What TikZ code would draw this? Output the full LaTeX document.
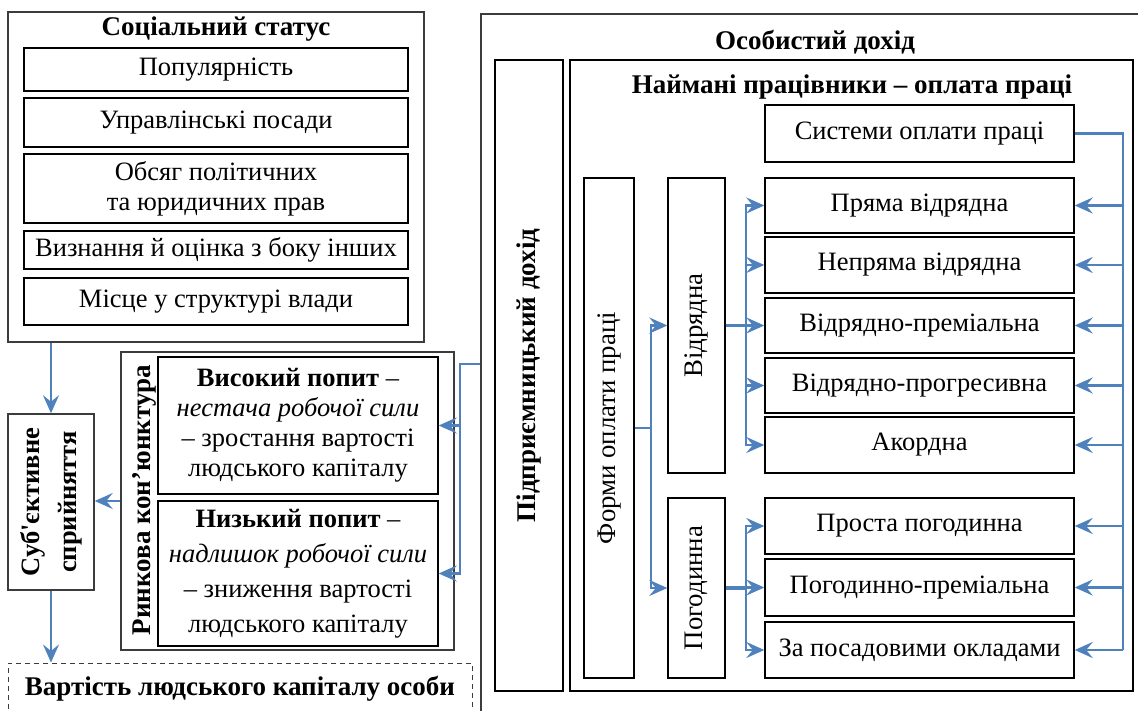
\documentclass[tikz,border=0pt]{standalone}
\usepackage{fontspec}
\setmainfont{Liberation Serif}
\newfontfamily\rawserif[Ligatures=TeXOff]{Liberation Serif}
\usetikzlibrary{arrows.meta,calc}

\definecolor{linkblue}{HTML}{4F81BD}
\definecolor{framegray}{HTML}{3C3C3C}

% box by corners: name, x1, y1, x2, y2, style, text
\newcommand\cornerbox[7]{%
  \node[#6, minimum width={#4-#2}, minimum height={#5-#3}]
    (#1) at ({(#2+#4)/2},{(#3+#5)/2}) {#7};}
% straight apostrophe
\newcommand\sapos{{\rawserif\bfseries '}}

\begin{document}
\begin{tikzpicture}[x=1pt, y=-1pt,
  inbox/.style={draw=black, line width=1.4pt, inner sep=0pt, align=center,
    font=\fontsize{26.5}{30}\selectfont},
  rbox/.style={inbox},
  frame/.style={draw=framegray, line width=1.5pt, inner sep=0pt},
  dashframe/.style={draw=framegray, line width=1pt, dash pattern=on 5pt off 4pt, inner sep=0pt},
  ttl/.style={font=\fontsize{27}{30}\selectfont\bfseries, inner sep=0pt},
  vlab/.style={rotate=90, inner sep=0pt, align=center},
  vtxt/.style={vlab, font=\fontsize{26.8}{30}\selectfont},
  vbold/.style={vlab, font=\fontsize{27}{30}\selectfont\bfseries},
  conn/.style={draw=linkblue, line width=2.3pt},
  arr/.style={conn, -{Stealth[length=18pt, width=16pt, inset=6.5pt]}},
]
\useasboundingbox (0,0) rectangle (1138,711);
\clip (0,0) rectangle (1138,711);

% ---------- social status ----------
\cornerbox{soc}{8}{12}{424}{342}{frame}{}
\node[ttl] (soctitle) at (216,29) {Соціальний статус};
\cornerbox{pop}{24}{48}{408}{91}{inbox}{Популярність}
\cornerbox{upr}{24}{98}{408}{147}{inbox}{Управлінські посади}
\cornerbox{obs}{24}{154}{408}{223}{inbox}{Обсяг політичних\\та юридичних прав}
\cornerbox{vyz}{24}{231}{408}{269}{inbox}{Визнання й оцінка з боку інших}
\cornerbox{mis}{24}{278}{408}{325}{inbox}{Місце у структурі влади}

% ---------- subjective perception ----------
\cornerbox{subj}{8}{414}{94}{590}{frame}{}
\node[vbold, font=\fontsize{26.5}{37}\selectfont\bfseries] (subjlab) at (subj.center) {Суб\sapos єктивне\\сприйняття};

% ---------- market conditions ----------
\cornerbox{rynk}{121}{352}{454}{650}{frame}{}
\node[vbold] (rynklab) at (144,500) {Ринкова кон’юнктура};
\cornerbox{high}{158}{357}{438}{494}{inbox}{\textbf{Високий попит} –\\\textit{нестача робочої сили}\\– зростання вартості\\людського капіталу}
\cornerbox{low}{158}{501}{438}{646}{inbox, font=\fontsize{26.5}{35}\selectfont}{\textbf{Низький попит} –\\\textit{надлишок робочої сили}\\– зниження вартості\\людського капіталу}

% ---------- human capital value ----------
\cornerbox{val}{8}{663}{472}{720}{dashframe}{}
\node[ttl] (vallab) at (240,689) {Вартість людського капіталу особи};

% ---------- personal income ----------
\cornerbox{osob}{481}{14}{1150}{714}{frame}{}
\node[ttl] (osobtitle) at (815,42) {Особистий дохід};
\cornerbox{pidpr}{495}{60}{563}{691}{inbox}{}
\node[vbold] (pidprlab) at (pidpr.center) {Підприємницький дохід};
\cornerbox{naim}{570}{60}{1133}{691}{inbox}{}
\node[ttl] (naimtitle) at (852,87) {Наймані працівники – оплата праці};
\cornerbox{sys}{765}{105}{1074}{162}{rbox}{Системи оплати праці}

\cornerbox{forms}{584}{178}{634}{678}{inbox}{}
\node[vtxt] (formslab) at (forms.center) {Форми оплати праці};
\cornerbox{vidr}{668}{178}{725}{473}{inbox}{}
\node[vtxt] (vidrlab) at (vidr.center) {Відрядна};
\cornerbox{pogod}{668}{498}{725}{678}{inbox}{}
\node[vtxt] (pogodlab) at (pogod.center) {Погодинна};

\cornerbox{pr}{765}{178}{1074}{233}{rbox}{Пряма відрядна}
\cornerbox{npr}{765}{237}{1074}{293}{rbox}{Непряма відрядна}
\cornerbox{vp}{765}{298}{1074}{353}{rbox}{Відрядно-преміальна}
\cornerbox{vpg}{765}{358}{1074}{413}{rbox}{Відрядно-прогресивна}
\cornerbox{ak}{765}{417}{1074}{473}{rbox}{Акордна}
\cornerbox{pp}{765}{498}{1074}{554}{rbox}{Проста погодинна}
\cornerbox{pgp}{765}{559}{1074}{616}{rbox}{Погодинно-преміальна}
\cornerbox{zp}{765}{622}{1074}{678}{rbox}{За посадовими окладами}

% ---------- bus coordinates ----------
\coordinate (rbus) at (1123,0);
\coordinate (vbus) at (746,0);
\coordinate (fbus) at (651,0);
\coordinate (mbus) at (460,0);

% wage systems feed every wage form from the right
\draw[conn] (sys.east) -| (rbus |- zp.east);
\foreach \b in {pr,npr,vp,vpg,ak,pp,pgp,zp}
  \draw[arr] (rbus |- \b.east) -- (\b.east);

% piece-rate branch
\draw[conn, line width=3.8pt] (vidr.east) -- (vbus |- vidr.east);
\foreach \b in {pr,npr,vp,vpg,ak}
  \draw[arr] (vidr.east) -- (vbus |- vidr.east) |- (\b.west);

% time-rate branch
\draw[conn, line width=3.8pt] (pogod.east) -- (vbus |- pogod.east);
\foreach \b in {pp,pgp,zp}
  \draw[arr] (pogod.east) -- (vbus |- pogod.east) |- (\b.west);

% forms of pay
\draw[arr] (forms.east) -- (fbus |- forms.east) |- (vidr.west);
\draw[arr] (forms.east) -- (fbus |- forms.east) |- (pogod.west);

% income drives market conditions
\draw[arr] (osob.west) -- (mbus |- osob.west) |- (high.east);
\draw[arr] (osob.west) -- (mbus |- osob.west) |- (low.east);

% left chain
\draw[arr] (soc.south -| subj.north) -- (subj.north);
\draw[arr] (rynk.west) -- (rynk.west -| subj.east);
\draw[arr] (subj.south) -- (subj.south |- val.north);
\end{tikzpicture}
\end{document}
